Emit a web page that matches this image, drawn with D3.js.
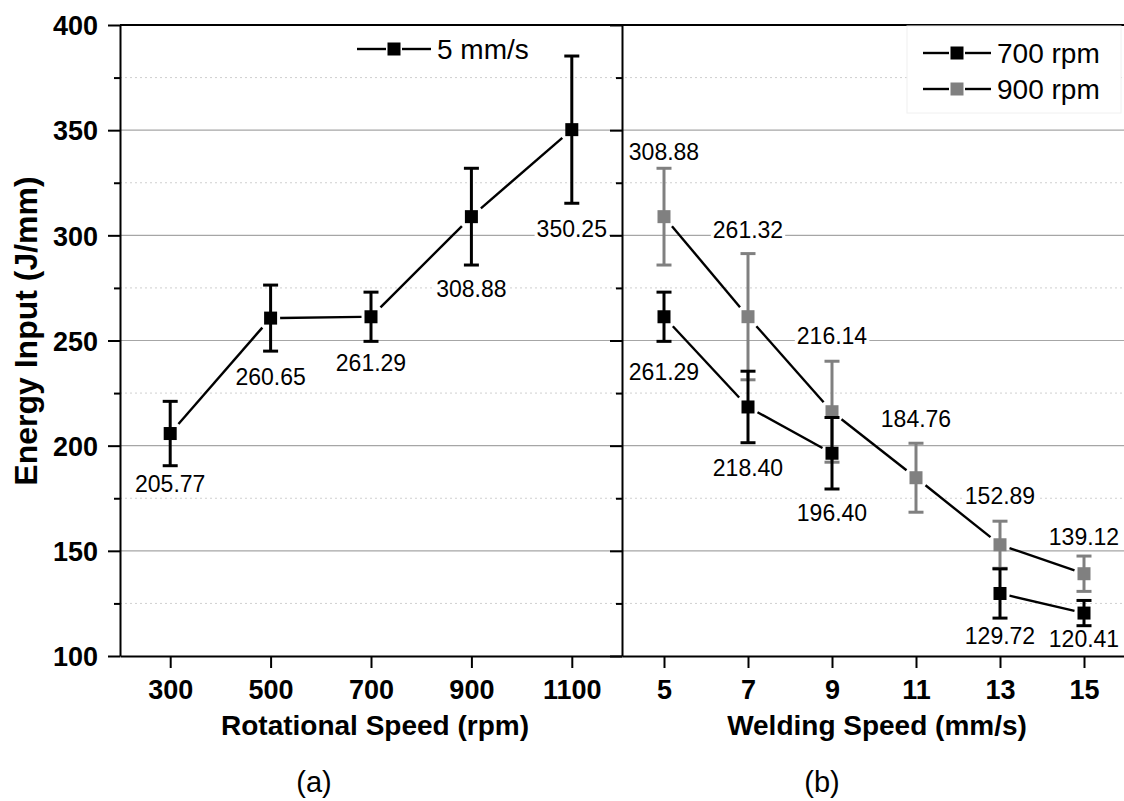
<!DOCTYPE html>
<html><head><meta charset="utf-8">
<script src="https://cdn.jsdelivr.net/npm/d3@7"></script>
<style>body{margin:0;background:#fff}svg{display:block}</style>
</head><body><svg id="c" width="1124" height="801"></svg>
<script>
// ---- data ----
const rotSpeeds = [300, 500, 700, 900, 1100];
const rotEnergy = [205.77, 260.65, 261.29, 308.88, 350.25];
const rotErr = [15.3, 15.7, 11.7, 23, 35];
const weldSpeeds = [5, 7, 9, 11, 13, 15];
const e700 = [261.29, 218.40, 196.40, null, 129.72, 120.41];
const err700 = [11.7, 17, 17, null, 11.7, 6];
const e900 = [308.88, 261.32, 216.14, 184.76, 152.89, 139.12];
const err900 = [23, 30, 24, 16.4, 11.2, 8.4];
const yMajor = [100, 150, 200, 250, 300, 350, 400];
const yMinor = [125, 175, 225, 275, 325, 375];
const rotTicks = [300, 500, 700, 900, 1100];
const weldTicks = [5, 7, 9, 11, 13, 15];
// label baseline offsets (layout, px from point)
const rotLabelDy = [58, 67, 54, 80, 107];
const lab700Dy = [63, 69, 68, null, 50.5, 33.5];
const lab900Dy = [-57, -79, -68, -51, -41, -29];

const svg = d3.select('#c');
const FONT = "'Liberation Sans', Arial, sans-serif";
const y = d3.scaleLinear().domain([100, 400]).range([656, 25]);
const xA = d3.scaleLinear().domain([200, 1200]).range([120, 622]);
const xB = d3.scaleLinear().domain([4, 16]).range([622, 1126]);
const GRAY = '#808080';

// gridlines
const grid = svg.append('g');
grid.selectAll('line.maj').data(yMajor.filter(v => v > 100 && v < 400)).enter().append('line')
  .attr('x1', 120).attr('x2', 1124).attr('y1', d => y(d)).attr('y2', d => y(d))
  .attr('stroke', '#a6a6a6').attr('stroke-width', 1.2);
grid.selectAll('line.min').data(yMinor).enter().append('line')
  .attr('x1', 120).attr('x2', 1124).attr('y1', d => y(d)).attr('y2', d => y(d))
  .attr('stroke', '#cfcfcf').attr('stroke-width', 1).attr('stroke-dasharray', '2,3');

// axes
function yAxis(x0, labels) {
  const g = svg.append('g').attr('transform', `translate(${x0},0)`);
  const ax = d3.axisLeft(y).tickValues(yMajor).tickSize(12).tickSizeOuter(0)
    .tickFormat(labels ? d3.format('d') : '');
  g.call(ax);
  g.append('g').call(d3.axisLeft(y).tickValues(yMinor).tickSize(6).tickFormat('').tickSizeOuter(0))
    .select('.domain').remove();
  g.selectAll('line').attr('stroke', '#000').attr('stroke-width', 2);
  g.selectAll('.domain').attr('stroke', '#000').attr('stroke-width', 2);
  g.selectAll('text').attr('font-family', FONT).attr('font-weight', 'bold')
    .attr('font-size', 27).attr('fill', '#000').attr('x', -22).attr('dy', '0.36em');
}
yAxis(120, true);
yAxis(622, false);

function xAxis(scale, ticks) {
  const g = svg.append('g').attr('transform', 'translate(0,656)');
  g.call(d3.axisBottom(scale).tickValues(ticks).tickSize(12).tickSizeOuter(0).tickFormat(d3.format('d')));
  g.selectAll('line').attr('stroke', '#000').attr('stroke-width', 2);
  g.selectAll('.domain').attr('stroke', '#000').attr('stroke-width', 2);
  g.selectAll('text').attr('font-family', FONT).attr('font-weight', 'bold')
    .attr('font-size', 27).attr('fill', '#000').attr('y', 43).attr('dy', 0);
}
xAxis(xA, rotTicks);
xAxis(xB, weldTicks);

// top border
svg.append('line').attr('x1', 120).attr('x2', 1124).attr('y1', y(400)).attr('y2', y(400))
  .attr('stroke', '#000').attr('stroke-width', 2);

// titles
svg.append('text').attr('transform', 'translate(37,331) rotate(-90)').attr('text-anchor', 'middle')
  .attr('font-family', FONT).attr('font-weight', 'bold').attr('font-size', 32).text('Energy Input (J/mm)');
svg.append('text').attr('x', 375).attr('y', 735).attr('text-anchor', 'middle')
  .attr('font-family', FONT).attr('font-weight', 'bold').attr('font-size', 28).text('Rotational Speed (rpm)');
svg.append('text').attr('x', 877).attr('y', 735).attr('text-anchor', 'middle')
  .attr('font-family', FONT).attr('font-weight', 'bold').attr('font-size', 28).text('Welding Speed (mm/s)');
svg.append('text').attr('x', 314).attr('y', 792).attr('text-anchor', 'middle')
  .attr('font-family', FONT).attr('font-size', 29).text('(a)');
svg.append('text').attr('x', 822).attr('y', 792).attr('text-anchor', 'middle')
  .attr('font-family', FONT).attr('font-size', 29).text('(b)');

// labels with white background
const labG = svg.append('g');
function label(px, py, txt) {
  const t = labG.append('text').attr('x', px).attr('y', py).attr('text-anchor', 'middle')
    .attr('font-family', FONT).attr('font-size', 23).attr('fill', '#000').text(txt);
  const b = t.node().getBBox();
  labG.insert('rect', 'text').attr('x', b.x - 2).attr('y', b.y + 1).attr('width', b.width + 4)
    .attr('height', b.height - 2).attr('fill', '#fff');
}
rotSpeeds.forEach((s, i) => label(xA(s), y(rotEnergy[i]) + rotLabelDy[i], rotEnergy[i].toFixed(2)));
weldSpeeds.forEach((s, i) => {
  if (e700[i] != null) label(xB(s), y(e700[i]) + lab700Dy[i], e700[i].toFixed(2));
  label(xB(s), y(e900[i]) + lab900Dy[i], e900[i].toFixed(2));
});

// series drawing
function series(xs, vals, errs, xScale, color) {
  const g = svg.append('g');
  const pts = xs.map((s, i) => vals[i] == null ? null : { x: xScale(s), y: y(vals[i]), v: vals[i], e: errs[i] });
  const H = 9.5;
  for (let i = 0; i < pts.length - 1; i++) {
    const a = pts[i], b = pts[i + 1];
    if (!a || !b) continue;
    const dx = b.x - a.x, dy = b.y - a.y, L = Math.hypot(dx, dy);
    const ux = dx / L, uy = dy / L;
    const d = H / Math.max(Math.abs(ux), Math.abs(uy));
    g.append('line').attr('x1', a.x + ux * d).attr('y1', a.y + uy * d)
      .attr('x2', b.x - ux * d).attr('y2', b.y - uy * d)
      .attr('stroke', '#000').attr('stroke-width', 2.4);
  }
  const p = pts.filter(d => d);
  p.forEach(d => {
    const t = y(d.v + d.e), bt = y(d.v - d.e);
    g.append('line').attr('x1', d.x).attr('x2', d.x).attr('y1', t).attr('y2', bt)
      .attr('stroke', color).attr('stroke-width', 3);
    [t, bt].forEach(yy => g.append('line').attr('x1', d.x - 7.5).attr('x2', d.x + 7.5).attr('y1', yy).attr('y2', yy)
      .attr('stroke', color).attr('stroke-width', 3));
  });
  g.selectAll('rect').data(p).enter().append('rect')
    .attr('x', d => d.x - 6.5).attr('y', d => d.y - 6.5).attr('width', 13).attr('height', 13)
    .attr('fill', color);
}
series(rotSpeeds, rotEnergy, rotErr, xA, '#000');
series(weldSpeeds, e900, err900, xB, GRAY);
series(weldSpeeds, e700, err700, xB, '#000');

// legends
function legendItem(x1, x2, yy, color, txt) {
  const cx = (x1 + x2) / 2;
  svg.append('line').attr('x1', x1).attr('x2', cx - 8).attr('y1', yy).attr('y2', yy)
    .attr('stroke', '#000').attr('stroke-width', 2.4);
  svg.append('line').attr('x1', cx + 8).attr('x2', x2).attr('y1', yy).attr('y2', yy)
    .attr('stroke', '#000').attr('stroke-width', 2.4);
  svg.append('rect').attr('x', cx - 6.5).attr('y', yy - 6.5).attr('width', 13).attr('height', 13).attr('fill', color);
  svg.append('text').attr('x', x2 + 6).attr('y', yy + 10).attr('font-family', FONT).attr('font-size', 28).text(txt);
}
svg.append('rect').attr('x', 907).attr('y', 26).attr('width', 214).attr('height', 87)
  .attr('fill', '#fff').attr('stroke', '#f0f0f0').attr('stroke-width', 1);
legendItem(357, 431, 49, '#000', '5 mm/s');
legendItem(923, 991, 53, '#000', '700 rpm');
legendItem(923, 991, 89, GRAY, '900 rpm');
</script></body></html>
